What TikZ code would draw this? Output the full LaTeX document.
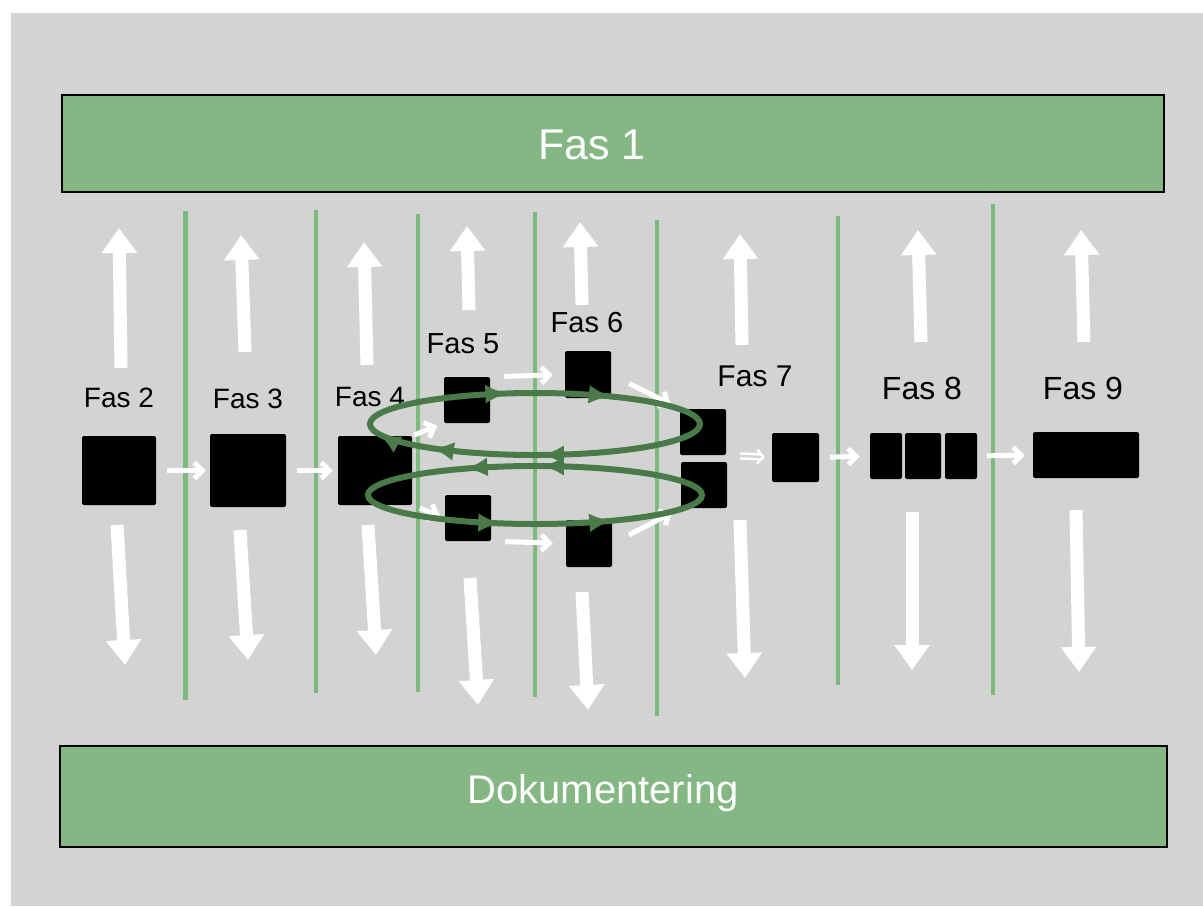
\documentclass[tikz,border=0pt]{standalone}
\usepackage{fontspec}
\setmainfont{Liberation Sans}
\usetikzlibrary{arrows.meta,decorations.markings}
\definecolor{bg}{RGB}{211,211,211}
\definecolor{bandgreen}{RGB}{132,183,132}
\definecolor{sepgreen}{RGB}{125,186,125}
\definecolor{loopgreen}{RGB}{74,122,74}
\tikzset{looptip/.tip={Latex[length=22pt,width=19pt]}}
\begin{document}
\begin{tikzpicture}[x=1pt,y=-1pt,
  band/.style={draw=black, line width=2.5pt, fill=bandgreen, inner sep=0pt},
  bandtext/.style={text=white, inner sep=0pt},
  blk/.style={fill=black, rounded corners=2pt, inner sep=0pt},
  lbl/.style={text=black, inner sep=0pt},
  sepline/.style={draw=sepgreen, line width=4pt},
  bigarrow/.style={draw=white, line width=13pt, -{Triangle[length=25pt,width=34pt]}},
  sarrow/.style={draw=white, line width=5pt, -{Straight Barb[length=8pt,width=16pt]}},
  looppath/.style={draw=loopgreen, line width=6pt}
]
% canvas
\useasboundingbox (0,0) rectangle (1203,906);
\fill[white] (0,0) rectangle (1203,906);
\fill[bg] (11,13) rectangle (1203,906);

% bands
\node[band, minimum width=1102pt, minimum height=97pt] (fas1) at (613,143.5) {};
\node[bandtext, font=\fontsize{43}{46}\selectfont] (fas1t) at (592,145) {Fas 1};
\node[band, minimum width=1107pt, minimum height=101pt] (dok) at (613.5,796.5) {};
\node[bandtext, font=\fontsize{40}{44}\selectfont] (dokt) at (603,793) {Dokumentering};

% separators
\draw[sepline, line width=5pt] (185,211) -- (185,700);
\draw[sepline] (316,210) -- (316,693);
\draw[sepline] (418,214) -- (418,692);
\draw[sepline] (535,212) -- (535,697);
\draw[sepline] (657,220) -- (657,716);
\draw[sepline] (838,216) -- (838,685);
\draw[sepline] (993,204) -- (993,695);

% big up/down arrows
\draw[bigarrow] (121,368) -- (119,228);
\draw[bigarrow] (245,352) -- (241,235);
\draw[bigarrow] (367,365) -- (364,242);
\draw[bigarrow] (469,310) -- (467,226);
\draw[bigarrow] (582,305) -- (580,222);
\draw[bigarrow] (742,345) -- (740,234);
\draw[bigarrow] (921,342) -- (918,230);
\draw[bigarrow] (1084,342) -- (1081,230);

\draw[bigarrow] (117,525) -- (125,665);
\draw[bigarrow] (240,530) -- (248,660);
\draw[bigarrow] (368,525) -- (376,655);
\draw[bigarrow] (470,578) -- (478,705);
\draw[bigarrow] (582,592) -- (588,710);
\draw[bigarrow] (740,520) -- (745,678);
\draw[bigarrow] (912,512) -- (912,670);
\draw[bigarrow] (1076,510) -- (1079,672);

% labels
\node[lbl, font=\fontsize{28}{30}\selectfont] (l2) at (119,398) {Fas 2};
\node[lbl, font=\fontsize{28}{30}\selectfont] (l3) at (248,399) {Fas 3};
\node[lbl, font=\fontsize{28}{30}\selectfont] (l4) at (370,397) {Fas 4};
\node[lbl, font=\fontsize{29}{31}\selectfont] (l5) at (463,344) {Fas 5};
\node[lbl, font=\fontsize{29}{31}\selectfont] (l6) at (587,323) {Fas 6};
\node[lbl, font=\fontsize{30}{32}\selectfont] (l7) at (755,376) {Fas 7};
\node[lbl, font=\fontsize{32}{34}\selectfont] (l8) at (922,388) {Fas 8};
\node[lbl, font=\fontsize{32}{34}\selectfont] (l9) at (1083,388) {Fas 9};

% boxes
\node[blk, minimum width=74pt, minimum height=69pt] (f2) at (119,470.5) {};
\node[blk, minimum width=76pt, minimum height=73pt] (f3) at (248,470.5) {};
\node[blk, minimum width=74pt, minimum height=69pt] (f4) at (375,470.5) {};
\node[blk, minimum width=46pt, minimum height=46pt] (f5a) at (467,400) {};
\node[blk, minimum width=46pt, minimum height=46pt] (f5b) at (468,518) {};
\node[blk, minimum width=46pt, minimum height=47pt] (f6a) at (588,374.5) {};
\node[blk, minimum width=46pt, minimum height=47pt] (f6b) at (589,543.5) {};
\node[blk, minimum width=46pt, minimum height=46pt] (f7a) at (703,432) {};
\node[blk, minimum width=46pt, minimum height=46pt] (f7b) at (704,485) {};
\node[blk, minimum width=47pt, minimum height=49pt] (f7c) at (795.5,457.5) {};
\node[blk, minimum width=32pt, minimum height=46pt] (f8a) at (886,456) {};
\node[blk, minimum width=36pt, minimum height=46pt] (f8b) at (923,456) {};
\node[blk, minimum width=32pt, minimum height=46pt] (f8c) at (961,456) {};
\node[blk, minimum width=106pt, minimum height=46pt] (f9) at (1086,455) {};

% small white connectors
\draw[sarrow, shorten <=11pt, shorten >=4pt] (f2.east) -- (f3.west);
\draw[sarrow, shorten <=11pt, shorten >=5pt] (f3.east) -- (f4.west);
\draw[sarrow, shorten <=2pt, shorten >=7pt] (f4.north east) -- (f5a.south west);
\draw[sarrow, shorten <=8pt, shorten >=5pt] (f4.south east) -- (f5b.west);
\draw[sarrow, shorten <=14pt, shorten >=12pt] (f5a.north east) -- (f6a.west);
\draw[sarrow, shorten <=14pt, shorten >=13pt] (f5b.south east) -- (f6b.west);
\draw[sarrow, shorten <=20pt, shorten >=10pt] (f6a.east) -- (f7a.north west);
\draw[sarrow, shorten <=19pt, shorten >=10pt] (f6b.east) -- (f7b.south west);
\draw[draw=white, line width=2.5pt, double=bg, double distance=2.5pt, -{Straight Barb[length=6pt,width=14pt]}, shorten <=14pt, shorten >=7pt] (f7a.south east) -- (f7c.west);
\draw[sarrow, shorten <=11pt, shorten >=10pt] (f7c.east) -- (f8a.west);
\draw[sarrow, shorten <=10pt, shorten >=8pt] (f8c.east) -- (f9.west);

% feedback loops
\draw[looppath, postaction={decorate}, decoration={markings,
    mark=at position 0.14 with {\arrowreversed{looptip}},
    mark=at position 0.29 with {\arrowreversed{looptip}},
    mark=at position 0.52 with {\arrowreversed{looptip}},
    mark=at position 0.60 with {\arrowreversed{looptip}},
    mark=at position 0.76 with {\arrowreversed{looptip}}}]
  (535,424) ellipse [x radius=165pt, y radius=31pt];
\draw[looppath, postaction={decorate}, decoration={markings,
    mark=at position 0.24 with {\arrow{looptip}},
    mark=at position 0.35 with {\arrow{looptip}},
    mark=at position 0.70 with {\arrow{looptip}},
    mark=at position 0.86 with {\arrow{looptip}}}]
  (535,495) ellipse [x radius=167pt, y radius=29pt];
\end{tikzpicture}
\end{document}
